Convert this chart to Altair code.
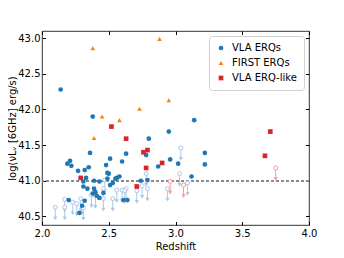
import altair as alt
import pandas as pd

# VLA ERQs (detections)
vla_z = [2.14, 2.38, 3.14, 2.95, 2.80, 2.36, 2.63, 3.22, 2.51, 2.96, 2.21, 2.60, 3.02, 3.22,
         2.19, 2.48, 2.22, 2.87, 2.35, 2.32, 2.27, 2.49, 2.50, 3.12, 2.58, 2.56, 2.33, 2.55,
         2.49, 2.79, 2.74, 2.39, 2.31, 2.43, 2.53, 2.51, 2.31, 2.34, 2.39, 2.40, 2.46, 2.38,
         2.41, 2.43, 2.61, 2.64, 2.20, 2.32, 2.30, 2.28, 2.78]
vla_L = [42.28, 41.90, 41.85, 41.69, 41.59, 41.39, 41.38, 41.39, 41.31, 41.30, 41.28, 41.27, 41.24, 41.23,
         41.24, 41.22, 41.21, 41.20, 41.19, 41.15, 41.14, 41.11, 41.10, 41.06, 41.06, 41.04, 41.04, 41.03,
         41.03, 41.01, 41.00, 41.00, 40.99, 40.99, 40.97, 40.94, 40.92, 40.89, 40.89, 40.84, 40.83, 40.82,
         40.79, 40.76, 40.73, 40.73, 40.73, 40.72, 40.65, 40.55, 41.36]

# FIRST ERQs
first_z = [2.38, 2.88, 2.95, 2.73, 2.45, 2.58, 2.39]
first_L = [42.86, 42.99, 42.13, 42.01, 41.90, 41.85, 41.60]

# VLA ERQ-like (detections)
like_z = [2.52, 2.63, 2.76, 2.79, 2.78, 2.90, 2.71, 2.29, 3.71, 3.67]
like_L = [41.76, 41.59, 41.40, 41.43, 41.18, 41.25, 40.92, 41.04, 41.69, 41.35]

# VLA ERQs upper limits
vla_ul_z = [2.10, 2.17, 2.17, 2.23, 2.26, 2.29, 2.30, 2.31, 2.37, 2.40, 2.46, 2.46, 2.47,
            2.53, 2.56, 2.60, 2.63, 2.62, 2.71, 2.75, 2.78, 2.79, 2.94, 3.03, 3.04, 3.09]
vla_ul_L = [40.63, 40.74, 40.63, 40.70, 40.68, 40.75, 40.70, 40.62, 40.80, 40.79, 40.75, 40.89, 41.01,
            40.75, 40.87, 40.87, 40.89, 40.86, 40.86, 40.93, 41.10, 40.89, 40.89, 41.10, 41.46, 40.97]

# VLA ERQ-like upper limits
like_ul_z = [2.96, 3.06, 3.75]
like_ul_L = [40.99, 40.94, 41.18]

groups = ["VLA ERQs", "FIRST ERQs", "VLA ERQ-like"]
det = pd.DataFrame({
    "z": vla_z + first_z + like_z,
    "L": vla_L + first_L + like_L,
    "group": [groups[0]] * len(vla_z) + [groups[1]] * len(first_z) + [groups[2]] * len(like_z),
})
ul_vla = pd.DataFrame({"z": vla_ul_z, "L": vla_ul_L})
ul_like = pd.DataFrame({"z": like_ul_z, "L": like_ul_L})

xs = alt.Scale(domain=[2.0, 4.0], nice=False, zero=False)
ys = alt.Scale(domain=[40.38, 43.10], nice=False, zero=False)

xticks = [2.0, 2.5, 3.0, 3.5, 4.0]
yticks = [40.5, 41.0, 41.5, 42.0, 42.5, 43.0]

common_axis = dict(grid=False, domain=False, tickSize=3.5, offset=-3.5, tickColor="black",
                   labelFontSize=10, labelColor="black", titleFontSize=10, titleColor="black",
                   titleFontWeight="normal", labelFont="DejaVu Sans", titleFont="DejaVu Sans",
                   labelFlush=False)

x_bottom = alt.Axis(title="Redshift", values=xticks, format=".1f", labelPadding=3, titlePadding=3,
                    **common_axis)
y_left = alt.Axis(title="log(νLᵥ [6GHz] erg/s)", values=yticks, format=".1f", labelPadding=2,
                  titlePadding=0, **common_axis)
x_top = alt.Axis(orient="top", title=None, labels=False, values=xticks, **common_axis)
y_right = alt.Axis(orient="right", title=None, labels=False, values=yticks, **common_axis)

rule = alt.Chart(det).mark_rule(color="#8a8a8a", strokeWidth=0.8, strokeDash=[3, 2]).encode(
    y=alt.Y(datum=41.0, axis=None, scale=ys)
)

layers = [rule]
for df, col in [(ul_vla, "#aec7e8"), (ul_like, "#ff9896")]:
    b = alt.Chart(df).transform_calculate(L2="datum.L - 0.155")
    layers.append(b.mark_rule(color=col, strokeWidth=1).encode(
        x=alt.X("z:Q", scale=xs, axis=None),
        y=alt.Y("L:Q", scale=ys, axis=None),
        y2="L2:Q"))
    layers.append(b.mark_point(shape="triangle-down", filled=True, color=col, size=18, opacity=1).encode(
        x=alt.X("z:Q", scale=xs, axis=None),
        y=alt.Y("L2:Q", scale=ys, axis=None)))
    layers.append(b.mark_point(shape="circle", filled=False, fill="white", stroke=col, strokeWidth=1,
                               size=16, opacity=1).encode(
        x=alt.X("z:Q", scale=xs, axis=None),
        y=alt.Y("L:Q", scale=ys, axis=None)))

points = alt.Chart(det).mark_point(filled=True, size=22, opacity=1).encode(
    x=alt.X("z:Q", scale=xs, axis=x_bottom),
    y=alt.Y("L:Q", scale=ys, axis=y_left),
    color=alt.Color("group:N", title=None,
                    scale=alt.Scale(domain=groups, range=["#1f77b4", "#ff7f0e", "#d62728"])),
    shape=alt.Shape("group:N", title=None,
                    scale=alt.Scale(domain=groups, range=["circle", "triangle-up", "square"])),
)
layers.append(points)

frame = alt.Chart(det).mark_point(opacity=0).encode(
    x=alt.X("z:Q", scale=xs, axis=x_top),
    y=alt.Y("L:Q", scale=ys, axis=y_right),
)
layers.append(frame)

chart = alt.layer(*layers).resolve_axis(x="independent", y="independent").properties(
    width=267, height=194,
    autosize=alt.AutoSizeParams(type="none"),
    padding={"left": 34, "top": 23, "right": 27, "bottom": 25},
).configure(font="DejaVu Sans").configure_view(
    stroke="black", strokeWidth=0.8
).configure_legend(
    orient="top-right", offset=5, padding=7, strokeColor="#d0d0d0", cornerRadius=3,
    fillColor="white", labelFontSize=10, labelFont="DejaVu Sans", labelColor="black",
    symbolSize=22, rowPadding=5, labelOffset=6
)

chart.save("out.html", embed_options={"renderer": "svg", "actions": False})
